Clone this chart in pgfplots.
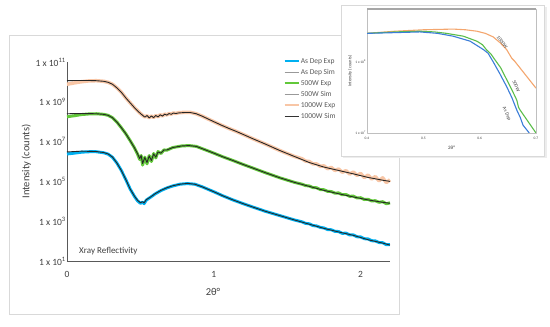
\documentclass[border=0pt]{standalone}
\usepackage{pgfplots}
\pgfplotsset{compat=1.18}
\usepackage{fontspec}
\setmainfont{Carlito}
\definecolor{cblue}{HTML}{00B0F0}
\definecolor{cgreen}{HTML}{62C83A}
\definecolor{cpeach}{HTML}{F8C6A6}
\definecolor{csim}{HTML}{262626}
\definecolor{txt}{HTML}{404040}
\definecolor{ax}{HTML}{595959}
\definecolor{iorange}{HTML}{F4A66E}
\definecolor{igreen}{HTML}{5BBE4A}
\definecolor{iblue}{HTML}{3B7DD8}
\begin{document}
\begin{tikzpicture}[x=1pt,y=1pt]
\path[use as bounding box] (0pt,0pt) rectangle (550pt,327pt);
% main frame
\draw[black!15, line width=0.8pt, fill=white] (9pt,13pt) rectangle (399pt,292pt);
\begin{axis}[
  at={(67pt,66pt)}, anchor=south west, scale only axis,
  width=323pt, height=199pt,
  xmin=0, xmax=2.2, ymin=1, ymax=11,
  axis lines*=left, axis line style={ax, line width=0.7pt},
  major tick length=0pt,
  xtick={0,1,2}, xticklabels={0,1,2},
  ytick={1,3,5,7,9,11},
  yticklabels={1 x 10\textsuperscript{1},1 x 10\textsuperscript{3},1 x 10\textsuperscript{5},1 x 10\textsuperscript{7},1 x 10\textsuperscript{9},1 x 10\textsuperscript{11}},
  ticklabel style={font=\fontsize{9.5}{10}\selectfont, text=txt},
  yticklabel style={inner sep=1pt},
  xticklabel style={yshift=-7pt},
  xlabel={2θ°}, xlabel style={at={(axis description cs:0.452,-0.156)}, anchor=center, font=\fontsize{10.5}{12}\selectfont, text=txt},
  ylabel={Intensity (counts)}, ylabel style={font=\fontsize{10.5}{12}\selectfont, text=txt},
  clip=false,
  legend style={draw=none, fill=none, at={(0.669,1.03)}, anchor=north west, inner sep=0pt,
    font=\fontsize{7.5}{8}\selectfont, text=ax,
    nodes={inner sep=1pt, text height=6pt, text depth=2pt},
    /tikz/every odd column/.append style={column sep=0pt}, row sep=1pt},
  legend cell align=left,
  legend image code/.code={\draw[#1] (0pt,0pt) -- (14pt,0pt);},
  line join=round,
]
% ---------- As Dep Exp ----------
\addplot[cblue, line width=3pt, forget plot] coordinates {
(0,6.38) (0.05,6.42) (0.1,6.47) (0.15,6.49) (0.2,6.49) (0.25,6.44) (0.28,6.37) (0.31,6.21)
(0.34,5.92) (0.37,5.55) (0.40,5.10) (0.43,4.62) (0.46,4.24) (0.48,4.03) (0.50,3.90)
(0.515,3.96) (0.525,3.88) (0.54,4.06) (0.57,4.21) (0.60,4.37) (0.64,4.54) (0.68,4.67)
(0.72,4.77) (0.77,4.86) (0.82,4.89) (0.87,4.86) (0.92,4.73) (1.00,4.48) (1.06,4.28)
(1.13,4.07) (1.20,3.88) (1.27,3.70) (1.35,3.50) (1.45,3.28) (1.55,3.06) (1.60,2.97)
(1.625,2.89) (1.65,2.87) (1.675,2.78) (1.70,2.76) (1.725,2.69) (1.75,2.66) (1.775,2.58)
(1.80,2.57) (1.825,2.49) (1.85,2.48) (1.875,2.39) (1.90,2.40) (1.925,2.31) (1.95,2.31)
(1.975,2.22) (2.00,2.21) (2.025,2.12) (2.05,2.11) (2.075,2.02) (2.10,2.01) (2.125,1.93)
(2.15,1.92) (2.175,1.82) (2.20,1.82)};
% ---------- 500W Exp ----------
\addplot[cgreen, line width=3pt, forget plot] coordinates {
(0,8.25) (0.05,8.30) (0.1,8.36) (0.15,8.39) (0.2,8.40) (0.25,8.37) (0.28,8.32) (0.31,8.20)
(0.34,7.98) (0.37,7.70) (0.40,7.40) (0.43,7.05) (0.46,6.68) (0.48,6.38) (0.495,6.10)
(0.505,6.30) (0.515,5.82) (0.53,6.22) (0.545,5.88) (0.56,6.30) (0.575,6.00) (0.59,6.40)
(0.605,6.18) (0.62,6.50) (0.64,6.40) (0.66,6.58) (0.68,6.57) (0.72,6.70) (0.78,6.78)
(0.83,6.80) (0.88,6.76) (0.93,6.62) (1.00,6.42) (1.06,6.24) (1.13,6.05) (1.20,5.85)
(1.27,5.66) (1.35,5.44) (1.45,5.18) (1.55,4.95) (1.60,4.86) (1.625,4.79) (1.65,4.77)
(1.675,4.69) (1.70,4.68) (1.725,4.59) (1.75,4.58) (1.775,4.50) (1.80,4.49) (1.825,4.41)
(1.85,4.42) (1.875,4.33) (1.90,4.34) (1.925,4.25) (1.95,4.26) (1.975,4.17) (2.00,4.18)
(2.025,4.09) (2.05,4.10) (2.075,4.02) (2.10,4.03) (2.125,3.95) (2.15,3.98) (2.175,3.88)
(2.20,3.92)};
% ---------- 1000W Exp ----------
\addplot[cpeach, line width=3.5pt, forget plot] coordinates {
(0,9.88) (0.05,9.95) (0.1,10.01) (0.15,10.05) (0.2,10.06) (0.25,10.03) (0.28,9.98)
(0.31,9.88) (0.34,9.70) (0.37,9.48) (0.40,9.20) (0.43,8.95) (0.46,8.70) (0.49,8.48)
(0.51,8.35) (0.53,8.24) (0.545,8.30) (0.56,8.20) (0.575,8.29) (0.59,8.21) (0.605,8.31)
(0.62,8.25) (0.635,8.35) (0.65,8.29) (0.665,8.38) (0.68,8.34) (0.695,8.41) (0.71,8.38)
(0.725,8.44) (0.74,8.41) (0.76,8.45) (0.80,8.47) (0.84,8.47) (0.88,8.40) (0.92,8.28)
(0.96,8.14) (1.00,8.00) (1.05,7.83) (1.10,7.67) (1.15,7.52) (1.20,7.36) (1.27,7.13)
(1.35,6.88) (1.45,6.55) (1.55,6.25) (1.60,6.14) (1.625,6.02) (1.65,6.00) (1.675,5.88)
(1.70,5.88) (1.725,5.76) (1.75,5.78) (1.775,5.64) (1.80,5.70) (1.825,5.55) (1.85,5.62)
(1.875,5.46) (1.90,5.54) (1.925,5.37) (1.95,5.47) (1.975,5.30) (2.00,5.40) (2.025,5.19)
(2.05,5.32) (2.075,5.12) (2.10,5.24) (2.125,5.03) (2.15,5.18) (2.175,4.94) (2.20,5.08)};
% ---------- Sims ----------
\addplot[csim, line width=0.9pt, forget plot] coordinates {
(0,6.48) (0.1,6.52) (0.2,6.50) (0.25,6.45) (0.28,6.38) (0.31,6.22) (0.34,5.92) (0.37,5.55)
(0.40,5.10) (0.43,4.62) (0.46,4.25) (0.48,4.05) (0.50,3.93) (0.515,3.98) (0.525,3.92)
(0.54,4.08) (0.57,4.22) (0.60,4.38) (0.64,4.55) (0.68,4.68) (0.72,4.78) (0.77,4.86)
(0.82,4.90) (0.87,4.86) (0.92,4.73) (1.00,4.48) (1.06,4.28) (1.13,4.07) (1.20,3.88)
(1.27,3.70) (1.35,3.50) (1.45,3.28) (1.55,3.06) (1.65,2.85) (1.75,2.64) (1.85,2.46)
(1.95,2.29) (2.05,2.07) (2.15,1.90) (2.2,1.80)};
\addplot[csim, line width=0.9pt, forget plot] coordinates {
(0,8.40) (0.1,8.41) (0.2,8.40) (0.25,8.37) (0.28,8.32) (0.31,8.20) (0.34,7.98) (0.37,7.70)
(0.40,7.40) (0.43,7.05) (0.46,6.68) (0.48,6.40) (0.495,6.15) (0.505,6.30) (0.515,5.90)
(0.53,6.20) (0.545,5.95) (0.56,6.28) (0.575,6.05) (0.59,6.38) (0.605,6.22) (0.62,6.48)
(0.64,6.42) (0.66,6.58) (0.68,6.58) (0.72,6.70) (0.78,6.78) (0.83,6.80) (0.88,6.76)
(0.93,6.62) (1.00,6.42) (1.06,6.24) (1.13,6.05) (1.20,5.85) (1.27,5.66) (1.35,5.44)
(1.45,5.18) (1.55,4.95) (1.65,4.75) (1.75,4.55) (1.85,4.38) (1.95,4.22) (2.05,4.07)
(2.15,3.95) (2.2,3.90)};
\addplot[csim, line width=0.9pt, forget plot] coordinates {
(0,10.06) (0.05,10.07) (0.1,10.07) (0.15,10.07) (0.2,10.06) (0.25,10.03) (0.28,9.98)
(0.31,9.88) (0.34,9.70) (0.37,9.48) (0.40,9.20) (0.43,8.95) (0.46,8.70) (0.49,8.48)
(0.51,8.35) (0.53,8.23) (0.545,8.31) (0.56,8.19) (0.575,8.29) (0.59,8.20) (0.605,8.31)
(0.62,8.24) (0.635,8.35) (0.65,8.28) (0.665,8.38) (0.68,8.33) (0.695,8.41) (0.71,8.37)
(0.725,8.44) (0.74,8.41) (0.76,8.44) (0.80,8.46) (0.84,8.46) (0.88,8.40) (0.92,8.28)
(0.96,8.14) (1.00,8.00) (1.05,7.83) (1.10,7.67) (1.15,7.52) (1.20,7.36) (1.27,7.13)
(1.35,6.88) (1.45,6.55) (1.55,6.25) (1.65,5.95) (1.75,5.72) (1.85,5.55) (1.95,5.38)
(2.05,5.20) (2.15,5.06) (2.2,5.00)};
% legend
\addlegendimage{cblue, line width=2.5pt}\addlegendentry{As Dep Exp}
\addlegendimage{black!40, line width=0.8pt}\addlegendentry{As Dep Sim}
\addlegendimage{cgreen, line width=2.5pt}\addlegendentry{500W Exp}
\addlegendimage{black!40, line width=0.8pt}\addlegendentry{500W Sim}
\addlegendimage{cpeach, line width=2.5pt}\addlegendentry{1000W Exp}
\addlegendimage{black!80, line width=0.8pt}\addlegendentry{1000W Sim}
\node[anchor=west, font=\fontsize{9}{10}\selectfont, text=txt, inner sep=0pt] at (axis cs:0.082,1.5) {Xray Reflectivity};
\end{axis}
% inset frame with shadow
\fill[black!7] (343pt,169pt) rectangle (546.5pt,320pt);
\draw[black!15, line width=0.8pt, fill=white] (341pt,171pt) rectangle (544pt,322pt);
\begin{axis}[
  at={(367pt,194pt)}, anchor=south west, scale only axis,
  width=169pt, height=124pt,
  xmin=0.4, xmax=0.7, ymin=7, ymax=8.742,
  axis line style={black!25, line width=0.6pt},
  major tick length=0pt,
  xtick={0.4,0.5,0.6,0.7}, xticklabels={0.4,0.5,0.6,0.7},
  ytick={7,8}, yticklabels={1 x 10\textsuperscript{7},1 x 10\textsuperscript{8}},
  ticklabel style={font=\fontsize{3.6}{4}\selectfont, text=txt},
  yticklabel style={inner sep=1pt},
  xticklabel style={yshift=-1pt},
  xlabel={2θ°}, xlabel style={at={(axis description cs:0.5,-0.12)}, anchor=center, font=\fontsize{5}{6}\selectfont, text=txt},
  ylabel={Intensity (counts)}, ylabel style={at={(axis description cs:-0.1,0.5)}, anchor=center, font=\fontsize{4.5}{5}\selectfont, text=txt},
  clip=true, line join=round,
]
\addplot[iorange, line width=1.1pt] coordinates {
(0.40,8.40) (0.45,8.43) (0.50,8.45) (0.553,8.46) (0.575,8.45) (0.595,8.43) (0.61,8.40)
(0.624,8.35) (0.636,8.27) (0.648,8.17) (0.657,8.05) (0.662,8.01) (0.672,7.91) (0.686,7.77) (0.70,7.63)};
\addplot[igreen, line width=1.1pt] coordinates {
(0.40,8.40) (0.45,8.42) (0.494,8.43) (0.52,8.42) (0.541,8.40) (0.571,8.36) (0.595,8.29)
(0.605,8.24) (0.612,8.17) (0.620,8.11) (0.627,8.03) (0.637,7.92) (0.648,7.75) (0.657,7.61)
(0.666,7.46) (0.669,7.36) (0.672,7.32) (0.686,7.16) (0.70,7.00)};
\addplot[iblue, line width=1.1pt] coordinates {
(0.40,8.40) (0.45,8.41) (0.494,8.42) (0.525,8.40) (0.553,8.36) (0.583,8.29) (0.607,8.17)
(0.615,8.12) (0.624,8.00) (0.636,7.83) (0.648,7.65) (0.657,7.50) (0.666,7.32) (0.672,7.22)
(0.677,7.11) (0.688,7.00)};
\draw[black!35, line width=1.5pt] (rel axis cs:0,1) -- (rel axis cs:1,1);
\node[rotate=-52, font=\fontsize{5}{6}\selectfont, text=txt, inner sep=0.5pt] at (axis cs:0.640,8.27) {1000W};
\node[rotate=-66, font=\fontsize{5}{6}\selectfont, text=txt, inner sep=0.5pt] at (axis cs:0.665,7.66) {500W};
\node[rotate=-66, font=\fontsize{5}{6}\selectfont, text=txt, inner sep=0.5pt] at (axis cs:0.648,7.27) {As Dep};
\end{axis}
\end{tikzpicture}
\end{document}
